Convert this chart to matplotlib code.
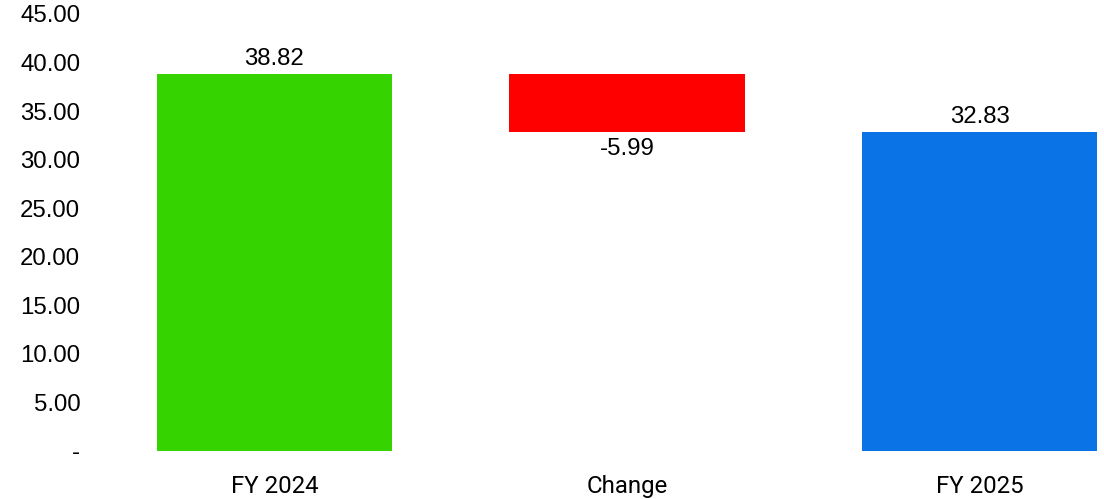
import matplotlib.pyplot as plt
from matplotlib.ticker import FuncFormatter

categories = ["FY 2024", "Change", "FY 2025"]
start_value = 38.82
change = -5.99
end_value = 32.83
colors = ["#35D400", "#FF0000", "#0A74E6"]

W, H = 1104, 499
fig = plt.figure(figsize=(W / 100, H / 100), dpi=100)
# axes box in pixels: left 90, right 1104, bottom 451 (y from top), top 14
ax = fig.add_axes([90 / W, (H - 451) / H, (W - 90) / W, (451 - 14) / H])

bottoms = [0, end_value, 0]
heights = [start_value, -change, end_value]
x = range(len(categories))
ax.bar(x, heights, bottom=bottoms, width=0.667, color=colors)

num_font = "Liberation Sans"
lab_font = "Roboto"
fs = 17.3

# value labels
ax.text(0, start_value + 0.45, f"{start_value:.2f}", ha="center", va="bottom",
        fontsize=fs, family=num_font)
ax.text(1, end_value - 0.55, f"{change:.2f}", ha="center", va="top",
        fontsize=fs, family=num_font)
ax.text(2, end_value + 0.45, f"{end_value:.2f}", ha="center", va="bottom",
        fontsize=fs, family=num_font)

ax.set_xlim(-0.5234, 2.353)
ax.set_ylim(0, 45)
ax.set_yticks(range(0, 46, 5))
ax.yaxis.set_major_formatter(FuncFormatter(lambda v, p: "-" if v == 0 else f"{v:.2f}"))
ax.set_xticks(list(x))
ax.set_xticklabels(categories)

for lbl in ax.get_yticklabels():
    lbl.set_family(num_font)
    lbl.set_fontsize(fs)
for lbl in ax.get_xticklabels():
    lbl.set_family(lab_font)
    lbl.set_fontsize(17.3)

ax.tick_params(axis="y", length=0, pad=7, colors="#000000")
ax.tick_params(axis="x", length=0, pad=17, colors="#000000")
for s in ax.spines.values():
    s.set_visible(False)

fig.savefig("out.png", dpi=100)
